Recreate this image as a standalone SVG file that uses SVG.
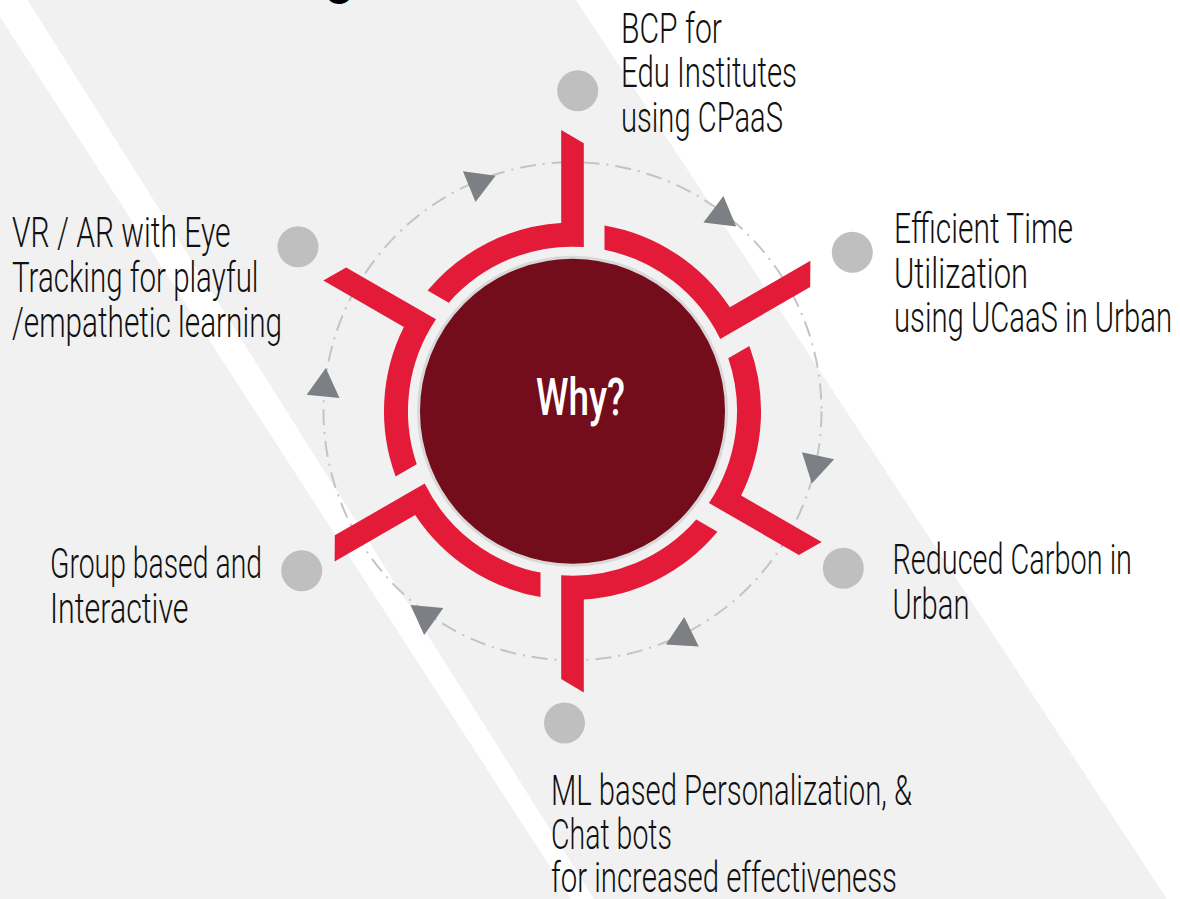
<svg xmlns="http://www.w3.org/2000/svg" xmlns:xlink="http://www.w3.org/1999/xlink" width="1180" height="899" viewBox="0 0 1180 899">
  <style>
    .t { font-family: "Roboto", "Liberation Sans", sans-serif; font-size: 42px; font-weight: 300; fill: #111111; }
    .dot { fill: #bfbfbf; }
    .seg { fill: #e31a38; }
    .arr { fill: #7c7f84; }
    .ring { fill: none; stroke: #c4c4c4; stroke-width: 2; stroke-dasharray: 16 7 2 7; }
  </style>
  <defs>
    <path id="segment" d="M-11.3,-281.2 L11.3,-267.9 L11.3,-164.1 A164.5,164.5 0 0 0 -123.8,-108.4 L-144.9,-120.6 A188.5,188.5 0 0 1 -11.3,-188.2 Z"/>
    <polygon id="tri" points="19,0 -9.5,16.5 -9.5,-16.5"/>
  </defs>

  <!-- background -->
  <rect width="1180" height="899" fill="#ffffff"/>
  <polygon points="0,17 571,899 0,899" fill="#f1f1f1"/>
  <polygon points="27.5,0 576,0 1167,899 594,899" fill="#f1f1f1"/>

  <!-- cut-off title descender -->
  <text x="326" y="-6" font-family="Roboto, 'Liberation Sans', sans-serif" font-size="48" font-weight="700" fill="#000">g</text>

  <!-- connectors -->
  <g id="connectors">
    <circle class="ring" cx="572.5" cy="411.2" r="249"/>
    <use xlink:href="#tri" class="arr" transform="translate(478,183) rotate(337.6)"/>
    <use xlink:href="#tri" class="arr" transform="translate(721,215) rotate(37.2)"/>
    <use xlink:href="#tri" class="arr" transform="translate(816,465) rotate(102.5)"/>
    <use xlink:href="#tri" class="arr" transform="translate(683,636) rotate(153.7)"/>
    <use xlink:href="#tri" class="arr" transform="translate(426,616) rotate(215.5)"/>
    <use xlink:href="#tri" class="arr" transform="translate(324,387) rotate(275.5)"/>
  </g>

  <!-- hub -->
  <g id="hub">
    <g transform="translate(572.5,411.2)">
      <use xlink:href="#segment" class="seg" transform="rotate(0)"/>
      <use xlink:href="#segment" class="seg" transform="rotate(60)"/>
      <use xlink:href="#segment" class="seg" transform="rotate(120)"/>
      <use xlink:href="#segment" class="seg" transform="rotate(180)"/>
      <use xlink:href="#segment" class="seg" transform="rotate(240)"/>
      <use xlink:href="#segment" class="seg" transform="rotate(300)"/>
    </g>
    <circle cx="572.5" cy="411.2" r="154" fill="#730c1b" stroke="#d8d8d8" stroke-width="3"/>
    <text x="536" y="415" font-family="Roboto, 'Liberation Sans', sans-serif" font-size="52" font-weight="500" fill="#ffffff" textLength="89" lengthAdjust="spacingAndGlyphs">Why?</text>
  </g>

  <!-- nodes -->
  <g id="node-bcp">
    <circle class="dot" cx="577.7" cy="90.7" r="20.5"/>
    <text class="t" x="621" y="43" textLength="101" lengthAdjust="spacingAndGlyphs">BCP for</text>
    <text class="t" x="621" y="87.3" textLength="176" lengthAdjust="spacingAndGlyphs">Edu Institutes</text>
    <text class="t" x="621" y="131.7" textLength="162" lengthAdjust="spacingAndGlyphs">using CPaaS</text>
  </g>

  <g id="node-time">
    <circle class="dot" cx="852.3" cy="252.3" r="20.5"/>
    <text class="t" x="894" y="243.3" textLength="179" lengthAdjust="spacingAndGlyphs">Efficient Time</text>
    <text class="t" x="894" y="288.3" textLength="134" lengthAdjust="spacingAndGlyphs">Utilization</text>
    <text class="t" x="894" y="331.7" textLength="278" lengthAdjust="spacingAndGlyphs">using UCaaS in Urban</text>
  </g>

  <g id="node-carbon">
    <circle class="dot" cx="843.3" cy="568.3" r="20.5"/>
    <text class="t" x="892.5" y="574" textLength="239.5" lengthAdjust="spacingAndGlyphs">Reduced Carbon in</text>
    <text class="t" x="892.5" y="619" textLength="77" lengthAdjust="spacingAndGlyphs">Urban</text>
  </g>

  <g id="node-ml">
    <circle class="dot" cx="564.5" cy="723" r="20.5"/>
    <text class="t" x="551" y="805" textLength="361" lengthAdjust="spacingAndGlyphs">ML based Personalization, &amp;</text>
    <text class="t" x="551" y="849" textLength="121" lengthAdjust="spacingAndGlyphs">Chat bots</text>
    <text class="t" x="551" y="892" textLength="346" lengthAdjust="spacingAndGlyphs">for increased effectiveness</text>
  </g>

  <g id="node-group">
    <circle class="dot" cx="301.7" cy="570.7" r="20.5"/>
    <text class="t" x="50" y="577.5" textLength="212" lengthAdjust="spacingAndGlyphs">Group based and</text>
    <text class="t" x="50" y="623.4" textLength="138.5" lengthAdjust="spacingAndGlyphs">Interactive</text>
  </g>

  <g id="node-vr">
    <circle class="dot" cx="298" cy="246.7" r="20.5"/>
    <text class="t" x="12" y="246.7" textLength="218.5" lengthAdjust="spacingAndGlyphs">VR / AR with Eye</text>
    <text class="t" x="12" y="291.7" textLength="246.5" lengthAdjust="spacingAndGlyphs">Tracking for playful</text>
    <text class="t" x="12" y="336.7" textLength="270" lengthAdjust="spacingAndGlyphs">/empathetic learning</text>
  </g>
</svg>
